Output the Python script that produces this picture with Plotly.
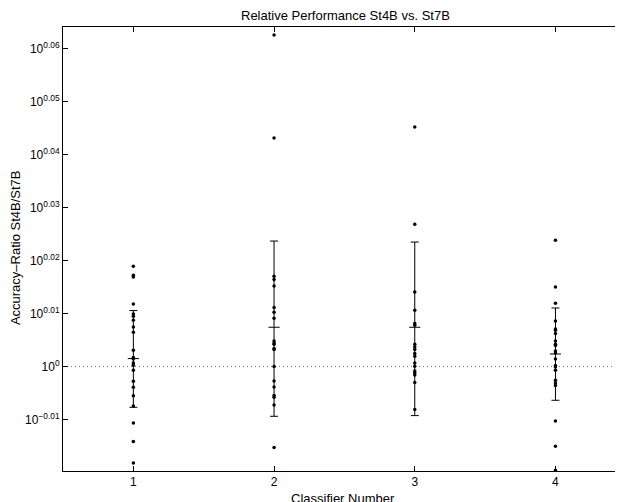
import plotly.graph_objects as go

# ---- data (accuracy ratios) ----
classifiers = [1, 2, 3, 4]

class1 = [1.04453, 1.04045, 1.03968, 1.02757, 1.02313, 1.02211, 1.02033, 1.01737,
          1.01501, 1.00712, 1.00392, 1.00332, 1.00157, 1.00058, 0.99839, 0.99364,
          0.99106, 0.98742, 0.98304, 0.97580, 0.96795, 0.95899]
class2 = [1.15497, 1.10441, 1.04002, 1.03851, 1.03564, 1.02596, 1.02388, 1.02120,
          1.01118, 1.01030, 1.00974, 1.00786, 1.00742, 1.00000, 0.99376, 0.99118,
          0.98748, 0.98676, 0.98345, 0.96543]
class3 = [1.10971, 1.06377, 1.03295, 1.02476, 1.01886, 1.01810, 1.00974, 1.00856,
          1.00742, 1.00566, 1.00448, 1.00157, 1.00013, 0.99809, 0.99722, 0.99637,
          0.99307, 0.98150]
class4 = [1.05640, 1.03518, 1.02787, 1.02000, 1.01646, 1.01590, 1.01445, 1.01118,
          1.00974, 1.00916, 1.00679, 1.00594, 1.00330, 1.00044, 0.99982, 0.99839,
          0.99408, 0.99291, 0.99179, 0.97665, 0.96596, 0.95594]
series = [class1, class2, class3, class4]

# error bars: mean, upper and lower extents
means = [1.00348, 1.01723, 1.01723, 1.00549]
err_plus = [0.02116, 0.03882, 0.03836, 0.02030]
err_minus = [0.02101, 0.03859, 0.03830, 0.02002]

ytick_vals = [0.97724, 1.0, 1.02329, 1.04713, 1.07152, 1.09648, 1.12202, 1.14815]
ytick_text = ["10<sup>\u22120.01</sup>", "10<sup>0</sup>", "10<sup>0.01</sup>",
              "10<sup>0.02</sup>", "10<sup>0.03</sup>", "10<sup>0.04</sup>",
              "10<sup>0.05</sup>", "10<sup>0.06</sup>"]
xtick_text = ["1", "2", "3", "4"]

title_text = "Relative Performance St4B vs. St7B"
xlabel = "Classifier Number"
ylabel = "Accuracy\u2013Ratio St4B/St7B"

FONT = "Liberation Sans, Arial, Helvetica, sans-serif"

fig = go.Figure()

# reference line at ratio 1
fig.add_trace(go.Scatter(x=[0.5, 4.5], y=[1.0, 1.0], mode="lines",
                         line=dict(color="#777777", width=1, dash="1px,3px"),
                         hoverinfo="skip", showlegend=False))

# error bars with mean marker
fig.add_trace(go.Scatter(
    x=classifiers, y=means, mode="markers",
    marker=dict(symbol="line-ew", size=8, color="black",
                line=dict(color="black", width=1)),
    error_y=dict(type="data", symmetric=False, array=err_plus,
                 arrayminus=err_minus, color="black", thickness=1, width=4),
    showlegend=False))

# individual points
for c, vals in zip(classifiers, series):
    fig.add_trace(go.Scatter(x=[c] * len(vals), y=vals, mode="markers",
                             marker=dict(symbol="circle", size=3.5, color="black"),
                             showlegend=False))

# dummy trace for right-hand ticks
fig.add_trace(go.Scatter(x=[None], y=[None], yaxis="y2", showlegend=False,
                         hoverinfo="skip"))

yrange = [-0.0197, 0.06407]

fig.update_layout(
    width=615, height=494,
    margin=dict(l=55, r=0, t=19, b=31),
    paper_bgcolor="white", plot_bgcolor="white",
    font=dict(family=FONT, size=12, color="black"),
    xaxis=dict(range=[0.5, 4.48], tickvals=classifiers, ticktext=xtick_text,
               ticks="inside", ticklen=5, tickcolor="black", tickwidth=1,
               showline=True, linecolor="black", linewidth=1, mirror="ticks",
               showgrid=False, zeroline=False,
               tickfont=dict(family=FONT, size=12)),
    yaxis=dict(type="log", range=yrange, tickvals=ytick_vals, ticktext=ytick_text,
               ticks="inside", ticklen=5, tickcolor="black", tickwidth=1,
               showline=True, linecolor="black", linewidth=1,
               showgrid=False, zeroline=False,
               tickfont=dict(family=FONT, size=12)),
    yaxis2=dict(type="log", range=yrange, tickvals=ytick_vals, overlaying="y",
                side="right", ticks="inside", ticklen=4, tickcolor="black",
                showticklabels=False, showline=False, showgrid=False,
                zeroline=False),
    annotations=[
        dict(text=title_text, xref="paper", yref="paper", x=0.5036, y=1.027,
             xanchor="center", yanchor="middle", showarrow=False,
             font=dict(family=FONT, size=13)),
        dict(text=xlabel, xref="paper", yref="paper", x=0.5005, y=-0.061,
             xanchor="center", yanchor="middle", showarrow=False,
             font=dict(family=FONT, size=13)),
        dict(text=ylabel, xref="paper", yref="paper", x=-0.0857, y=0.502,
             xanchor="center", yanchor="middle", showarrow=False, textangle=-90,
             font=dict(family=FONT, size=13)),
    ],
)

fig.write_html("out.html")
